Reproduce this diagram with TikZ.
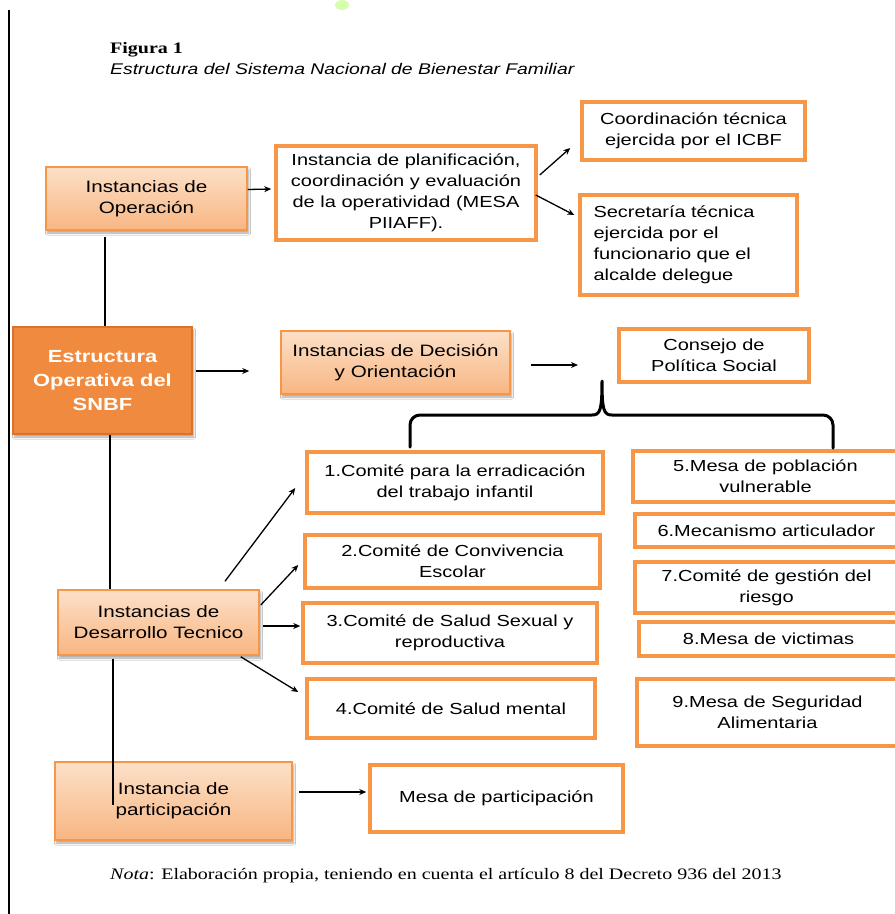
\documentclass[tikz,border=0pt]{standalone}
\usepackage{fontspec}
\setmainfont{Liberation Sans}[FakeStretch=1.25]
\newfontfamily\serifont{Liberation Serif}[FakeStretch=1.25]
\usetikzlibrary{arrows.meta,shadows.blur,calc}
\definecolor{orbrd}{HTML}{F79646}
\definecolor{ortop}{RGB}{252,224,200}
\definecolor{orbot}{RGB}{248,182,130}
\definecolor{orstrong}{HTML}{F08A3E}
\definecolor{orstrongb}{HTML}{D8722C}
\tikzset{
  wbox/.style={draw=orbrd, line width=3.5pt, fill=white, align=center, inner sep=2pt,
     font=\fontsize{16}{21}\selectfont},
  obox/.style={draw=orbrd, line width=1.5pt, top color=ortop, bottom color=orbot,
     blur shadow={shadow xshift=1.5pt, shadow yshift=-3pt, shadow blur steps=6, shadow opacity=35},
     align=center, inner sep=2pt, font=\fontsize{16.5}{21}\selectfont},
  sbox/.style={draw=orstrongb, line width=1.5pt, fill=orstrong,
     blur shadow={shadow xshift=1.5pt, shadow yshift=-3pt, shadow blur steps=6, shadow opacity=35},
     align=center, text=white, font=\fontsize{17.5}{24}\selectfont\bfseries},
  arr/.style={-{Stealth[length=7pt,width=6pt]}, line width=1.3pt},
  plain/.style={line width=1.5pt},
  bracel/.style={line width=3pt, line cap=round, line join=round},
}
\begin{document}
\begin{tikzpicture}[x=1pt,y=-1pt]
\useasboundingbox (0,0) rectangle (895,914);
\fill[white] (0,0) rectangle (895,914);
% left margin line and small green mark
\draw[line width=2pt] (9,10) -- (9,914);
\fill[green!35!lime!45!white, opacity=0.7] (342,5) ellipse (7pt and 5pt);

% titles
\node[anchor=base west, font=\serifont\fontsize{16}{18}\selectfont\bfseries, inner sep=0] (fig) at (110,53) {Figura 1};
\node[anchor=base west, font=\fontsize{15.5}{18}\selectfont\itshape, inner sep=0] (figt) at (110,74) {Estructura del Sistema Nacional de Bienestar Familiar};

% nodes
\node[obox, minimum width=201, minimum height=63] (op) at (146.5,198.5) {Instancias de\\Operación};
\node[wbox, minimum width=260, minimum height=94] (mesa) at (406,193) {Instancia de planificación,\\coordinación y evaluación\\de la operatividad (MESA\\PIIAFF).};
\node[wbox, minimum width=223, minimum height=58] (coord) at (693.5,131) {Coordinación técnica\\ejercida por el ICBF};
\node[wbox, minimum width=217, minimum height=100, text width=190, align=left] (secr) at (688.5,245) {Secretaría técnica\\ejercida por el\\funcionario que el\\alcalde delegue};

\node[sbox, minimum width=179, minimum height=107] (est) at (102.5,380.5) {Estructura\\Operativa del\\SNBF};
\node[obox, minimum width=229, minimum height=63] (dec) at (395.5,362.5) {Instancias de Decisión\\y Orientación};
\node[wbox, minimum width=190, minimum height=53] (cons) at (714,355.5) {Consejo de\\Política Social};

\node[obox, minimum width=201, minimum height=65] (dev) at (158.5,622.5) {Instancias de\\Desarrollo Tecnico};
\node[wbox, minimum width=296, minimum height=61] (c1) at (455,482.5) {1.Comité para la erradicación\\del trabajo infantil};
\node[wbox, minimum width=295, minimum height=53] (c2) at (452.5,561.5) {2.Comité de Convivencia\\Escolar};
\node[wbox, minimum width=294, minimum height=60] (c3) at (450,633) {3.Comité de Salud Sexual y\\reproductiva};
\node[wbox, minimum width=288, minimum height=59] (c4) at (451,708.5) {4.Comité de Salud mental};

\node[wbox, minimum width=265, minimum height=51] (m5) at (765.5,476.5) {5.Mesa de población\\vulnerable};
\node[wbox, minimum width=263, minimum height=33] (m6) at (766.5,530.5) {6.Mecanismo articulador};
\node[wbox, minimum width=263, minimum height=51] (m7) at (766.5,587.5) {7.Comité de gestión del\\riesgo};
\node[wbox, minimum width=259, minimum height=34] (m8) at (768.5,639) {8.Mesa de victimas};
\node[wbox, minimum width=261, minimum height=67] (m9) at (767.5,712.5) {9.Mesa de Seguridad\\Alimentaria};

\node[obox, minimum width=237, minimum height=78] (part) at (173.5,801) {Instancia de\\participación};
\node[wbox, minimum width=253, minimum height=67] (mpart) at (496.5,798.5) {Mesa de participación};

% free ends
\coordinate (decend) at (578,365);
\coordinate (bl) at (410,447);
\coordinate (br) at (833,448);
\coordinate (btip) at (602,381);

% connectors
\draw[arr] ([shift={(0,-9)}]op.east) -- ([shift={(-3,-4)}]mesa.west);
\draw[arr] ([shift={(2,-18)}]mesa.east) -- ([shift={(-10,17)}]coord.west);
\draw[arr] ([shift={(-2,2)}]mesa.east) -- ([shift={(-4,-30)}]secr.west);
\draw[plain] ([shift={(-41.5,6)}]op.south) -- ([shift={(2.5,0)}]est.north);
\draw[arr] ([shift={(3,-9.5)}]est.east) -- ([shift={(-31,8.5)}]dec.west);
\draw[arr] ([shift={(20,2.5)}]dec.east) -- (decend);
\draw[plain] ([shift={(7.5,0)}]est.south) -- ([shift={(-48.5,0)}]dev.north);
\draw[arr] ([shift={(66.5,-8)}]dev.north) -- ([shift={(-10,5.5)}]c1.west);
\draw[arr] ([shift={(1,-17.5)}]dev.east) -- ([shift={(-5,3.5)}]c2.west);
\draw[arr] ([shift={(3,3.5)}]dev.east) -- ([shift={(-1,-7)}]c3.west);
\draw[arr] ([shift={(-19,1)}]dev.south east) -- ([shift={(-7,-16.5)}]c4.west);
\draw[plain] ([shift={(-45.5,3)}]dev.south) -- ([shift={(-60.5,4)}]part.center);
\draw[arr] ([shift={(6,-9)}]part.east) -- ([shift={(-2,-6.5)}]mpart.west);

% brace
\draw[bracel] (bl) -- (410,425) to[out=90,in=180] (420,415) -- (592,415)
  .. controls (600,415) and (602,411) .. (btip)
  .. controls (602,411) and (604,415) .. (612,415) -- (823,415) to[out=0,in=90] (833,425) -- (br);

% note
\node[anchor=base west, font=\serifont\fontsize{16}{18}\selectfont, inner sep=0] (nota) at (110,879) {\textit{Nota}: Elaboración propia, teniendo en cuenta el artículo 8 del Decreto 936 del 2013};
\end{tikzpicture}
\end{document}
